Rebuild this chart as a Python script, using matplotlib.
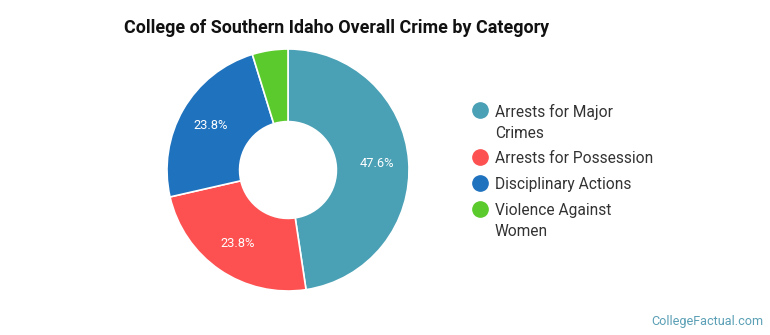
import matplotlib
matplotlib.use('Agg')
import matplotlib.pyplot as plt

plt.rcParams['font.family'] = ['Roboto', 'DejaVu Sans']

categories = ['Arrests for Major\nCrimes', 'Arrests for Possession',
              'Disciplinary Actions', 'Violence Against\nWomen']
counts = [10, 5, 5, 1]
colors = ['#4aa0b5', '#fd5151', '#1f72be', '#5bca2c']

fig = plt.figure(figsize=(7.7, 3.35), dpi=100)

# donut axes: centre ~ (288,170) px, radius ~121 px
cx, cy, r = 288, 170, 121
ax = fig.add_axes([(cx - r) / 770, (335 - cy - r) / 335, 2 * r / 770, 2 * r / 335])
wedges, texts, autotexts = ax.pie(
    counts, colors=colors, startangle=90, counterclock=False,
    radius=1, autopct=lambda p: '%.1f%%' % p if p > 10 else '',
    pctdistance=0.74, wedgeprops=dict(width=0.6, edgecolor='white', linewidth=1.2),
    textprops=dict(color='white', fontsize=9.3))
ax.set_xlim(-1, 1)
ax.set_ylim(-1, 1)
ax.set_aspect('equal')
ax.axis('off')

fig.text(124 / 770, 1 - 28 / 335, 'College of Southern Idaho Overall Crime by Category',
         fontsize=12.9, fontweight='bold', color='#111111', va='center', ha='left')

# legend
ys = [110, 157, 183, 209]
for lab, col, y in zip(categories, colors, ys):
    fig.lines.append(plt.Line2D([480 / 770], [1 - y / 335], marker='o', markersize=11,
                                color=col, linestyle='none', transform=fig.transFigure))
    fig.text(495 / 770, 1 - (y - 6) / 335, lab, fontsize=11.2, color='#333333',
             va='top', ha='left', linespacing=1.5)

fig.text(763 / 770, 1 - 321 / 335, 'CollegeFactual.com', fontsize=9.1,
         color='#5a9fb5', ha='right', va='center')

fig.savefig('out.png', dpi=100, facecolor='white')
